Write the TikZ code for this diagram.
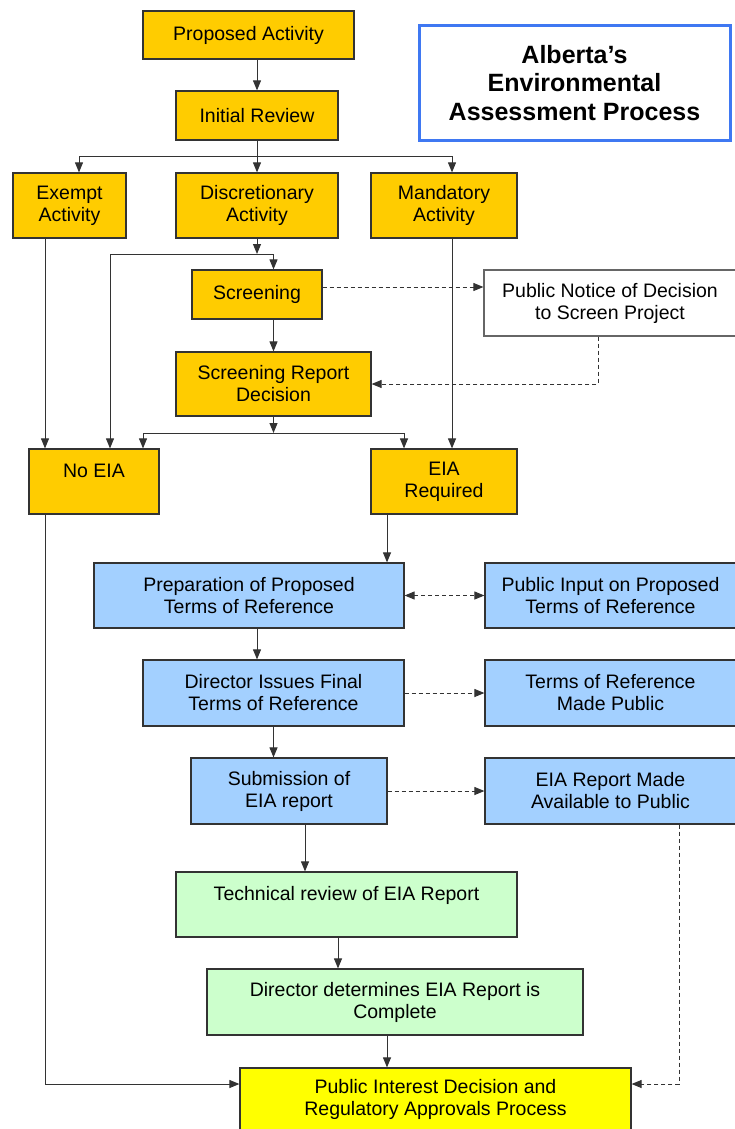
\documentclass[tikz,border=0pt]{standalone}
\usepackage{fontspec}
\setmainfont{Liberation Sans}
\usetikzlibrary{arrows.meta}
\definecolor{gold}{HTML}{FFCC00}
\definecolor{skyblue}{HTML}{A3D0FF}
\definecolor{mint}{HTML}{CCFFCC}
\definecolor{brightyellow}{HTML}{FFFF00}
\definecolor{titleblue}{HTML}{3F78F2}
\tikzset{
	box/.style={draw=black!80, line width=1.2pt, inner sep=0pt, align=center, font=\fontsize{19.5}{22}\selectfont},
	goldbox/.style={box, fill=gold},
	bluebox/.style={box, fill=skyblue},
	greenbox/.style={box, fill=mint},
	yellowbox/.style={box, fill=brightyellow},
	notebox/.style={box, draw=black!60, fill=white},
	titlebox/.style={draw=titleblue, line width=3pt, align=center, font=\fontsize{25}{28.5}\selectfont\bfseries},
	flow/.style={draw=black!80, line width=1pt, -{Triangle[length=10pt,width=8pt]}},
	dashflow/.style={flow, dash pattern=on 4pt off 3pt}
}
\begin{document}
\begin{tikzpicture}[x=1pt,y=-1pt]
	\useasboundingbox (0,0) rectangle (734,1129);
	\node[goldbox, minimum width=211, minimum height=48] (proposed) at (248.5,35) {Proposed Activity};
	\node[titlebox, minimum width=311, minimum height=114] (title) at (574.5,83) {Alberta's\\Environmental\\Assessment Process};
	\node[goldbox, minimum width=162, minimum height=49] (initial) at (257,115.5) {Initial Review};
	\node[goldbox, minimum width=113, minimum height=65] (exempt) at (69.5,205.5) {Exempt\\Activity};
	\node[goldbox, minimum width=162, minimum height=65] (discretionary) at (257,205.5) {Discretionary\\Activity};
	\node[goldbox, minimum width=146, minimum height=65] (mandatory) at (444,205.5) {Mandatory\\Activity};
	\node[goldbox, minimum width=130, minimum height=49] (screening) at (257,294.5) {Screening};
	\node[notebox, minimum width=252, minimum height=66] (notice) at (610,303) {Public Notice of Decision\\to Screen Project};
	\node[goldbox, minimum width=195, minimum height=64] (srd) at (273.5,384) {Screening Report\\Decision};
	\node[goldbox, minimum width=130, minimum height=65] (noeia) at (94,481.5) {No EIA\\ \mbox{}};
	\node[goldbox, minimum width=146, minimum height=65] (eiareq) at (444,481.5) {EIA\\Required};
	\node[bluebox, minimum width=310, minimum height=65] (prep) at (249,595.5) {Preparation of Proposed\\Terms of Reference};
	\node[bluebox, minimum width=251, minimum height=65] (input) at (610.5,595.5) {Public Input on Proposed\\Terms of Reference};
	\node[bluebox, minimum width=261, minimum height=66] (director) at (273.5,693) {Director Issues Final\\Terms of Reference};
	\node[bluebox, minimum width=251, minimum height=66] (madepublic) at (610.5,693) {Terms of Reference\\Made Public};
	\node[bluebox, minimum width=196, minimum height=66] (submission) at (289,791) {Submission of\\EIA report};
	\node[bluebox, minimum width=251, minimum height=66] (available) at (610.5,791) {EIA Report Made\\Available to Public};
	\node[greenbox, minimum width=341, minimum height=65] (technical) at (346.5,904.5) {Technical review of EIA Report\\ \mbox{}};
	\node[greenbox, minimum width=376, minimum height=66] (determines) at (395,1002) {Director determines EIA Report is\\Complete};
	\node[yellowbox, minimum width=391, minimum height=63] (pid) at (435.5,1099.5) {Public Interest Decision and\\Regulatory Approvals Process};
	\coordinate (split1) at (257,156);
	\coordinate (split2) at (257,254);
	\coordinate (split3) at (273.5,433);
	\draw[flow] (initial.north |- proposed.south) -- (initial.north);
	\draw[flow] (initial) -- (discretionary);
	\draw[flow] (split1) -| ([xshift=9.5]exempt.north);
	\draw[flow] (split1) -| ([xshift=8]mandatory.north);
	\draw[flow] (discretionary) -- (split2);
	\draw[flow] (split2) -| (screening.north -| srd);
	\draw[flow] (split2) -| ([xshift=16]noeia.north);
	\draw[dashflow] ([yshift=7.5]screening.east) -- ([yshift=7.5]screening.east -| notice.west);
	\draw[dashflow] ([xshift=-12]notice.south) |- (srd.east);
	\draw[flow] (screening.south -| srd) -- (srd);
	\draw[flow] (srd) -- (split3);
	\draw[flow] (split3) -| ([xshift=49]noeia.north);
	\draw[flow] (split3) -| ([xshift=-40]eiareq.north);
	\draw[flow] ([xshift=-49]noeia.north |- exempt.south) -- ([xshift=-49]noeia.north);
	\draw[flow] ([xshift=8]mandatory.south) -- ([xshift=8]eiareq.north);
	\draw[flow] ([xshift=-57]eiareq.south) -- ([xshift=-57]eiareq.south |- prep.north);
	\draw[dashflow, {Triangle[length=10pt,width=8pt]}-{Triangle[length=10pt,width=8pt]}] (prep) -- (input);
	\draw[flow] ([xshift=8]prep.south) -- ([xshift=8]prep.south |- director.north);
	\draw[dashflow] (director) -- (madepublic);
	\draw[flow] (director) -- (director |- submission.north);
	\draw[dashflow] (submission) -- (available);
	\draw[flow] ([xshift=16]submission.south) -- ([xshift=16]submission.south |- technical.north);
	\draw[flow] ([xshift=-8.5]technical.south) -- ([xshift=-8.5]technical.south |- determines.north);
	\draw[flow] ([xshift=-8]determines.south) -- ([xshift=-8]determines.south |- pid.north);
	\draw[flow] ([xshift=-49]noeia.south) |- ([yshift=15.5]pid.west);
	\draw[dashflow] ([xshift=68.5]available.south) |- ([yshift=15.5]pid.east);
\end{tikzpicture}
\end{document}
